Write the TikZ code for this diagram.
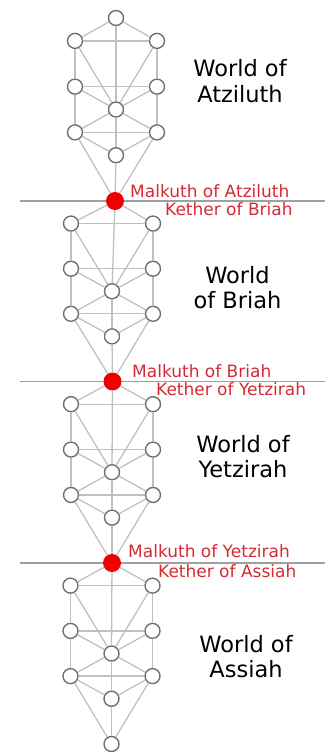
\documentclass[tikz,border=0pt]{standalone}
\usepackage{fontspec}
\setmainfont{DejaVu Sans}
\usepackage{tikz}

\definecolor{pathgray}{HTML}{C0C0C0}
\definecolor{ringgray}{HTML}{707070}
\definecolor{seamred}{HTML}{D42A33}
\definecolor{dotred}{HTML}{F20000}

\begin{document}
\begin{tikzpicture}[
    x = 1pt, y = -1pt,
    sephira/.style  = {circle, draw = ringgray, line width = 1.4pt, fill = white,
                       minimum size = 15pt, inner sep = 0pt},
    junction/.style = {circle, fill = dotred, minimum size = 18pt, inner sep = 0pt},
    link/.style     = {draw = pathgray, line width = 1.3pt},
    seam/.style     = {draw = gray!75, line width = 1.8pt},
    seamlbl/.style  = {font = \fontsize{17}{20}\selectfont, text = seamred,
                       inner sep = 0pt, anchor = base west},
    world/.style    = {font = \fontsize{22.5}{25.5}\selectfont, align = center,
                       inner sep = 0pt}
  ]
    \useasboundingbox (0,0) rectangle (325,753);

    % ── Seams between the worlds ─────────────────────────────────────────────
    \coordinate (seamL1) at (20,201);   \coordinate (seamR1) at (325,201);
    \coordinate (seamL2) at (20,381.5); \coordinate (seamR2) at (325,381.5);
    \coordinate (seamL3) at (20,563);   \coordinate (seamR3) at (325,563);
    \draw[seam] (seamL1) -- (seamR1);
    \draw[seam] (seamL2) -- (seamR2);
    \draw[seam] (seamL3) -- (seamR3);

    % ── Kether / Malkuth junctions ───────────────────────────────────────────
    \node[sephira]  (j0) at (116,18)    {};
    \node[junction] (j1) at (115,201)   {};
    \node[junction] (j2) at (112.5,381.5) {};
    \node[junction] (j3) at (112,563)   {};
    \node[sephira]  (j4) at (111.5,744) {};

    % ── Trees ────────────────────────────────────────────────────────────────
    \foreach \i/\nx/\top/\bot/\cx in {0/1/18/201/116, 1/2/201/381.5/112,
                                      2/3/381.5/563/112, 3/4/563/744/111.5} {
      \pgfmathsetmacro{\u}{(\bot-\top)/8}
      \node[sephira] (chokmah\i) at (\cx+41, \top+\u)   {};
      \node[sephira] (binah\i)   at (\cx-41, \top+\u)   {};
      \node[sephira] (chesed\i)  at (\cx+41, \top+3*\u) {};
      \node[sephira] (geburah\i) at (\cx-41, \top+3*\u) {};
      \node[sephira] (tiph\i)    at (\cx,    \top+4*\u) {};
      \node[sephira] (netzach\i) at (\cx+41, \top+5*\u) {};
      \node[sephira] (hod\i)     at (\cx-41, \top+5*\u) {};
      \node[sephira] (yesod\i)   at (\cx,    \top+6*\u) {};
      \foreach \a/\b in {j\i/chokmah\i, j\i/binah\i, j\i/tiph\i,
                         chokmah\i/binah\i, chokmah\i/tiph\i, chokmah\i/chesed\i,
                         binah\i/tiph\i, binah\i/geburah\i,
                         chesed\i/geburah\i, chesed\i/tiph\i, chesed\i/netzach\i,
                         geburah\i/tiph\i, geburah\i/hod\i,
                         tiph\i/netzach\i, tiph\i/hod\i, tiph\i/yesod\i,
                         netzach\i/hod\i, netzach\i/yesod\i, netzach\i/j\nx,
                         hod\i/yesod\i, hod\i/j\nx, yesod\i/j\nx}
        \draw[link] (\a) -- (\b);
    }

    % ── Seam labels ──────────────────────────────────────────────────────────
    \node[seamlbl] (malkuth1) at (130,197) {Malkuth of Atziluth};
    \node[seamlbl] (kether1)  at (165,215) {Kether of Briah};
    \node[seamlbl] (malkuth2) at (132,377) {Malkuth of Briah};
    \node[seamlbl] (kether2)  at (156,395) {Kether of Yetzirah};
    \node[seamlbl] (malkuth3) at (128,557) {Malkuth of Yetzirah};
    \node[seamlbl] (kether3)  at (158,577) {Kether of Assiah};

    % ── World names ──────────────────────────────────────────────────────────
    \node[world] (atziluth) at (240,81)      {World of\\Atziluth};
    \node[world] (briah)    at (237.5,287.5) {World\\of Briah};
    \node[world] (yetzirah) at (243,456.5)   {World of\\Yetzirah};
    \node[world] (assiah)   at (246,656.5)   {World of\\Assiah};
  \end{tikzpicture}
\end{document}
